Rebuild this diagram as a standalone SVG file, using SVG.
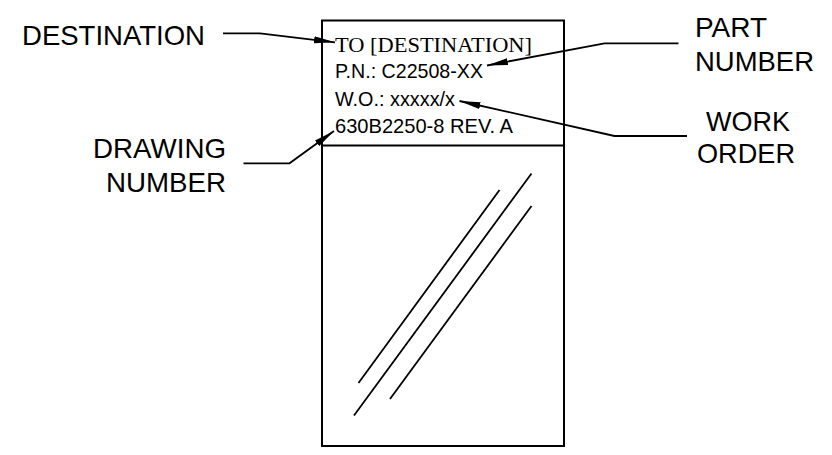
<svg xmlns="http://www.w3.org/2000/svg" width="832" height="455" viewBox="0 0 832 455">
<style>
.lbl{font-family:"Liberation Sans",Arial,sans-serif;font-size:28.5px;fill:#000}
.tag{font-family:"Liberation Sans",Arial,sans-serif;font-size:21px;fill:#000}
.ser{font-family:"Liberation Serif","Times New Roman",serif;font-size:22px;fill:#000}
.ln{fill:none;stroke:#000;stroke-width:1.8}
.bx{fill:#fff;stroke:#000;stroke-width:2}
</style>
<defs>
<marker id="ah" markerUnits="userSpaceOnUse" markerWidth="22" markerHeight="8" refX="21" refY="3.5" orient="auto">
<path d="M0,0 L21,3.5 L0,7 z" fill="#000"/>
</marker>
</defs>
<rect width="832" height="455" fill="#fff"/>
<g id="tag-box">
<rect class="bx" x="322" y="20.5" width="242" height="425.5"/>
<line class="ln" x1="322" y1="145.5" x2="564" y2="145.5" stroke-width="2"/>
<text class="ser" x="335" y="51.5" textLength="197" lengthAdjust="spacingAndGlyphs">TO [DESTINATION]</text>
<text class="tag" x="335" y="78" textLength="148" lengthAdjust="spacingAndGlyphs">P.N.: C22508-XX</text>
<text class="tag" x="335" y="105.5" textLength="120" lengthAdjust="spacingAndGlyphs">W.O.: xxxxx/x</text>
<text class="tag" x="335" y="133" textLength="178" lengthAdjust="spacingAndGlyphs">630B2250-8 REV. A</text>
</g>
<g id="window-glare">
<line class="ln" x1="499.5" y1="190" x2="358.5" y2="383"/>
<line class="ln" x1="531.5" y1="173.5" x2="354" y2="415.5"/>
<line class="ln" x1="531.5" y1="206" x2="390" y2="399"/>
</g>
<g id="label-destination">
<text class="lbl" x="22" y="45" textLength="183" lengthAdjust="spacingAndGlyphs">DESTINATION</text>
</g>
<g id="label-part-number">
<text class="lbl" x="695" y="37" textLength="72" lengthAdjust="spacingAndGlyphs">PART</text>
<text class="lbl" x="695" y="71" textLength="119" lengthAdjust="spacingAndGlyphs">NUMBER</text>
</g>
<g id="label-work-order">
<text class="lbl" x="706" y="131" textLength="84" lengthAdjust="spacingAndGlyphs">WORK</text>
<text class="lbl" x="697" y="163" textLength="98" lengthAdjust="spacingAndGlyphs">ORDER</text>
</g>
<g id="label-drawing-number">
<text class="lbl" x="93" y="158" textLength="133" lengthAdjust="spacingAndGlyphs">DRAWING</text>
<text class="lbl" x="106" y="192" textLength="120" lengthAdjust="spacingAndGlyphs">NUMBER</text>
</g>
<g id="connectors">
<polyline class="ln" points="223,33.3 260,33.3 335,42.3" marker-end="url(#ah)"/>
<polyline class="ln" points="678.5,43.3 604.5,43.3 487,65.5" marker-end="url(#ah)"/>
<polyline class="ln" points="687,136 614.5,136 459.5,101" marker-end="url(#ah)"/>
<polyline class="ln" points="243.5,163.3 289.5,163.3 334,131" marker-end="url(#ah)"/>
</g>
</svg>
